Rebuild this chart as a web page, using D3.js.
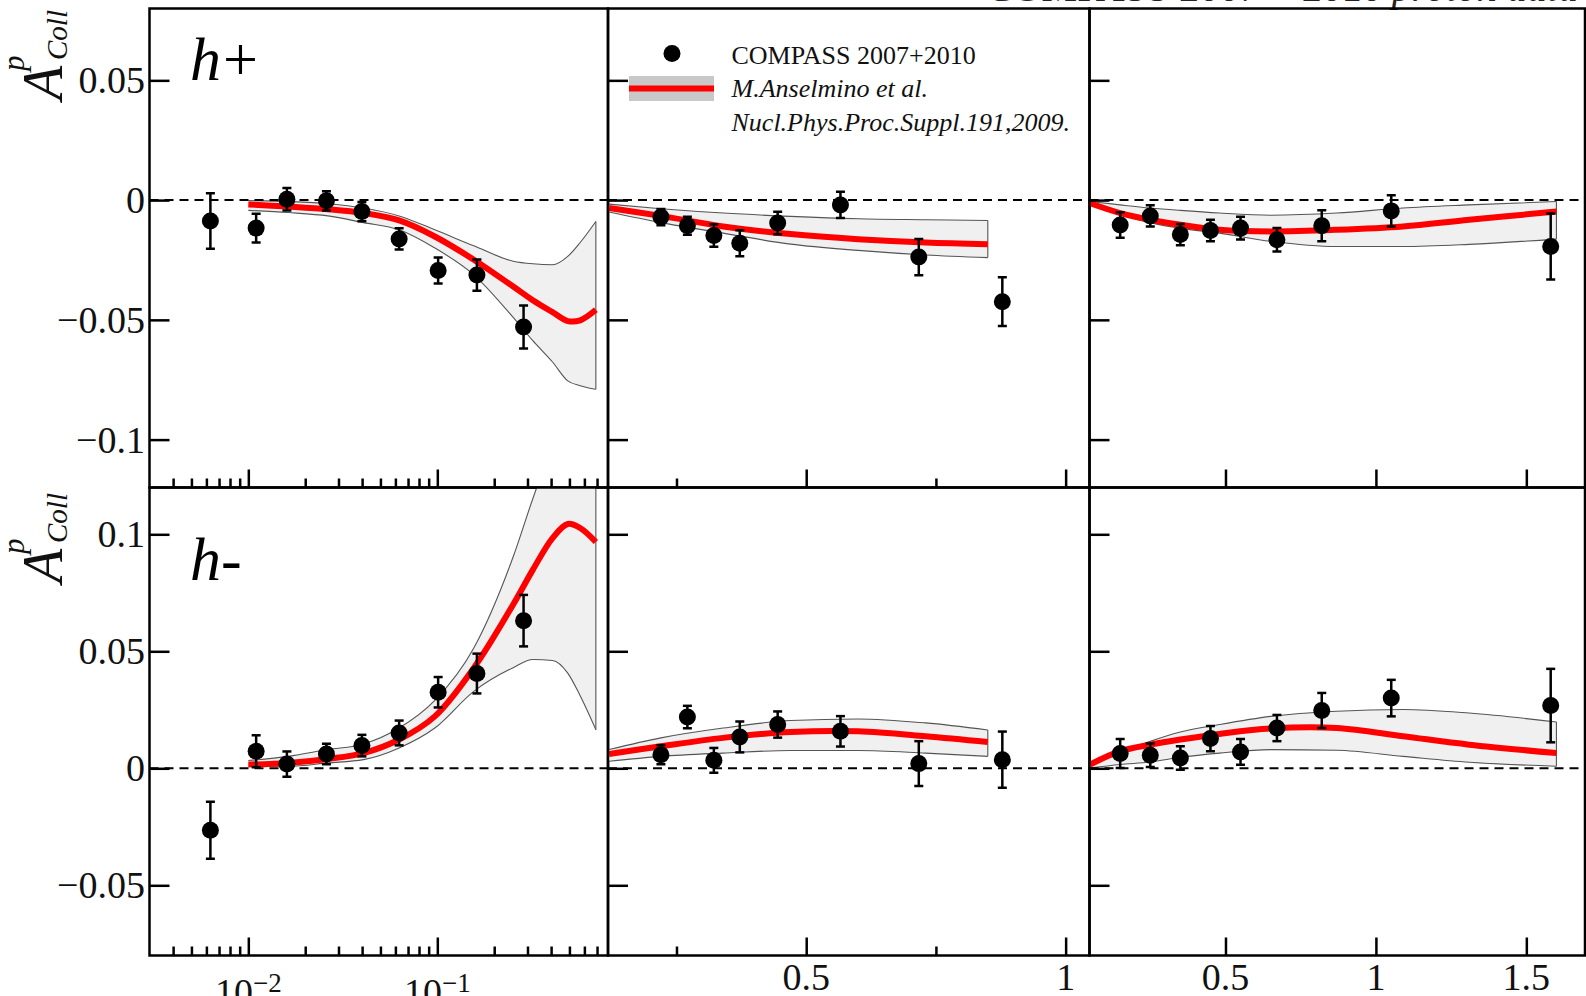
<!DOCTYPE html>
<html><head><meta charset="utf-8">
<script src="https://cdn.jsdelivr.net/npm/d3@7"></script>
<style>
html,body{margin:0;padding:0;background:#fff;}
svg{display:block;font-family:"Liberation Serif","Times New Roman",serif;}
</style></head>
<body>
<svg id="chart" width="1586" height="996"></svg>
<script>
// ---------------- data ----------------
// column 0: x (log), column 1: z, column 2: pT
const xBins  = [0.0063, 0.011, 0.016, 0.0259, 0.0399, 0.0628, 0.101, 0.162, 0.286];
const zBins  = [0.22, 0.271, 0.322, 0.372, 0.445, 0.566, 0.717, 0.878];
const ptBins = [0.15, 0.25, 0.35, 0.45, 0.55, 0.671, 0.82, 1.051, 1.581];

const hPlusX      = [-0.0087, -0.0117, 0.0004, -0.0003, -0.0048, -0.0162, -0.0294, -0.0313, -0.053];
const hPlusXErr   = [0.0116, 0.006, 0.0047, 0.004, 0.004, 0.0044, 0.0054, 0.0065, 0.009];
const hPlusZ      = [-0.0071, -0.0107, -0.0148, -0.018, -0.0096, -0.002, -0.0238, -0.0424];
const hPlusZErr   = [0.0034, 0.0038, 0.0047, 0.0054, 0.0047, 0.0055, 0.0076, 0.0102];
const hPlusPt     = [-0.0104, -0.0066, -0.0144, -0.0127, -0.0117, -0.0166, -0.0107, -0.0045, -0.0194];
const hPlusPtErr  = [0.0053, 0.0044, 0.0044, 0.0045, 0.0048, 0.0049, 0.0065, 0.0065, 0.0138];

const hMinusX     = [-0.0265, 0.0073, 0.0018, 0.0061, 0.0097, 0.0151, 0.0325, 0.0405, 0.0631];
const hMinusXErr  = [0.0122, 0.0068, 0.0054, 0.0044, 0.0046, 0.0053, 0.0065, 0.0085, 0.011];
const hMinusZ     = [0.0058, 0.0219, 0.0034, 0.0134, 0.0187, 0.0158, 0.002, 0.0037];
const hMinusZErr  = [0.0041, 0.0048, 0.0053, 0.0066, 0.0056, 0.0065, 0.0096, 0.012];
const hMinusPt    = [0.0063, 0.0056, 0.0044, 0.0127, 0.007, 0.0172, 0.0247, 0.03, 0.0268];
const hMinusPtErr = [0.0062, 0.005, 0.005, 0.0054, 0.0055, 0.0056, 0.0075, 0.0078, 0.0157];

// theory (Anselmino et al.) grids and curves
const thX  = [0.01, 0.0163, 0.0264, 0.0407, 0.0628, 0.097, 0.156, 0.252, 0.32, 0.407, 0.49, 0.57, 0.69];
const thZ  = [0.12, 0.22, 0.34, 0.47, 0.60, 0.73, 0.85];
const thPt = [0.05, 0.15, 0.25, 0.35, 0.48, 0.65, 0.87, 1.09, 1.31, 1.6];

const thPlusXMid  = [-0.0018, -0.0027, -0.0038, -0.0054, -0.0085, -0.0152, -0.0249, -0.0361, -0.0418, -0.0468, -0.0505, -0.0502, -0.0458];
const thPlusXHi   = [-0.0002, -0.0006, -0.0015, -0.0033, -0.0066, -0.0124, -0.0191, -0.0255, -0.0266, -0.027, -0.0235, -0.0177, -0.0089];
const thPlusXLo   = [-0.0043, -0.0052, -0.0066, -0.0094, -0.0124, -0.02, -0.0312, -0.049, -0.0587, -0.0676, -0.0755, -0.0775, -0.079];
const thPlusZMid  = [-0.0033, -0.0066, -0.011, -0.0142, -0.0163, -0.0177, -0.0184];
const thPlusZHi   = [-0.0017, -0.0036, -0.0054, -0.0068, -0.0078, -0.0082, -0.0085];
const thPlusZLo   = [-0.005, -0.0094, -0.0138, -0.0184, -0.021, -0.0229, -0.024];
const thPlusPtMid = [-0.0013, -0.0054, -0.0082, -0.0103, -0.0124, -0.0131, -0.0124, -0.011, -0.0082, -0.0048];
const thPlusPtHi  = [-0.0006, -0.002, -0.0033, -0.0043, -0.0054, -0.0063, -0.0054, -0.0033, -0.002, -0.0006];
const thPlusPtLo  = [-0.002, -0.006, -0.0094, -0.0118, -0.0138, -0.0172, -0.0194, -0.0194, -0.0185, -0.0163];

const thMinusXMid  = [0.0016, 0.0023, 0.004, 0.0065, 0.0123, 0.0222, 0.0429, 0.07, 0.0848, 0.0984, 0.1044, 0.1027, 0.0967];
const thMinusXHi   = [0.0033, 0.0051, 0.008, 0.0104, 0.0172, 0.029, 0.0514, 0.0904, 0.1152, 0.1384, 0.155, 0.17, 0.19];
const thMinusXLo   = [0.0009, 0.0009, 0.0023, 0.0037, 0.0087, 0.0172, 0.0329, 0.043, 0.0465, 0.0461, 0.0407, 0.031, 0.0165];
const thMinusZMid  = [0.0061, 0.0094, 0.013, 0.0155, 0.0158, 0.0137, 0.0112];
const thMinusZHi   = [0.008, 0.013, 0.0172, 0.0204, 0.0211, 0.0194, 0.0164];
const thMinusZLo   = [0.003, 0.0051, 0.0065, 0.0076, 0.0076, 0.0065, 0.0051];
const thMinusPtMid = [0.0016, 0.0073, 0.0101, 0.0123, 0.0147, 0.017, 0.0172, 0.0137, 0.0101, 0.0065];
const thMinusPtHi  = [0.0016, 0.0065, 0.0115, 0.0155, 0.0187, 0.0222, 0.0244, 0.0251, 0.0236, 0.0198];
const thMinusPtLo  = [0.0001, 0.0016, 0.0027, 0.0047, 0.0065, 0.008, 0.0077, 0.0051, 0.0026, 0.0009];

const yTicksTop = [0.05, 0, -0.05, -0.1];
const yTicksBot = [0.1, 0.05, 0, -0.05];
const xMinorLog = [0.004,0.005,0.006,0.007,0.008,0.009,0.02,0.03,0.04,0.05,0.06,0.07,0.08,0.09,0.2,0.3,0.4,0.5,0.6,0.7];
const xMajorLog = [0.01, 0.1];
const xLogLabels = [{v:0.01, e:"\u22122"}, {v:0.1, e:"\u22121"}];
const zMajor = [0.5, 1], zMinor = [0.25, 0.75];
const ptMajor = [0.5, 1, 1.5];
const rowLabels = ["h+", "h-"];
const legendData = "COMPASS 2007+2010";
const legendTheory = ["M.Anselmino et al.", "Nucl.Phys.Proc.Suppl.191,2009."];

// ---------------- layout ----------------
const svg = d3.select("#chart");
const colEdges = [[149.5, 608], [608, 1089.5], [1089.5, 1585]];
const rowEdges = [[8.5, 487.5], [487.5, 955.5]];
const xs = [
  d3.scaleLog().domain([0.003, 0.8]).range(colEdges[0]),
  d3.scaleLinear().domain([0.118, 1.046]).range(colEdges[1]),
  d3.scaleLinear().domain([0.048, 1.695]).range(colEdges[2])
];
const ys = [
  d3.scaleLinear().domain([-0.12, 0.08]).range([rowEdges[0][1], rowEdges[0][0]]),
  d3.scaleLinear().domain([-0.08, 0.12]).range([rowEdges[1][1], rowEdges[1][0]])
];

const panels = [
  {r:0,c:0, bins:xBins,  v:hPlusX,   e:hPlusXErr,   tx:thX,  mid:thPlusXMid,  hi:thPlusXHi,  lo:thPlusXLo},
  {r:0,c:1, bins:zBins,  v:hPlusZ,   e:hPlusZErr,   tx:thZ,  mid:thPlusZMid,  hi:thPlusZHi,  lo:thPlusZLo},
  {r:0,c:2, bins:ptBins, v:hPlusPt,  e:hPlusPtErr,  tx:thPt, mid:thPlusPtMid, hi:thPlusPtHi, lo:thPlusPtLo},
  {r:1,c:0, bins:xBins,  v:hMinusX,  e:hMinusXErr,  tx:thX,  mid:thMinusXMid, hi:thMinusXHi, lo:thMinusXLo},
  {r:1,c:1, bins:zBins,  v:hMinusZ,  e:hMinusZErr,  tx:thZ,  mid:thMinusZMid, hi:thMinusZHi, lo:thMinusZLo},
  {r:1,c:2, bins:ptBins, v:hMinusPt, e:hMinusPtErr, tx:thPt, mid:thMinusPtMid,hi:thMinusPtHi,lo:thMinusPtLo}
];

svg.append("rect").attr("width",1586).attr("height",996).attr("fill","#fff");

// top title (cut off by the page edge in the original as well)
const ttl = svg.append("text").attr("x",986).attr("y",1).attr("font-size",40).attr("fill","#222");
ttl.append("tspan").text("COMPASS 2007 \u2212 2010 ");
ttl.append("tspan").attr("font-style","italic").text("proton data");

const defs = svg.append("defs");

panels.forEach((p,i) => {
  const x = xs[p.c], y = ys[p.r];
  const [x0,x1] = colEdges[p.c], [y0,y1] = rowEdges[p.r];
  defs.append("clipPath").attr("id","clip"+i)
    .append("rect").attr("x",x0).attr("y",y0).attr("width",x1-x0).attr("height",y1-y0);
  const g = svg.append("g");
  const gc = g.append("g").attr("clip-path",`url(#clip${i})`);

  const pts = p.tx.map((t,k) => ({t, m:p.mid[k], h:p.hi[k], l:p.lo[k]}));
  const area = d3.area().x(d=>x(d.t)).y0(d=>y(d.l)).y1(d=>y(d.h)).curve(d3.curveMonotoneX);
  gc.append("path").attr("d",area(pts)).attr("fill","#f0f0f0").attr("stroke","none");
  const mk = (acc, curve) => d3.line().x(d=>x(d.t)).y(d=>y(acc(d))).curve(curve)(pts);
  gc.append("path").attr("d",mk(d=>d.h, d3.curveMonotoneX)).attr("fill","none").attr("stroke","#555").attr("stroke-width",1.1);
  gc.append("path").attr("d",mk(d=>d.l, d3.curveMonotoneX)).attr("fill","none").attr("stroke","#555").attr("stroke-width",1.1);
  const last = pts[pts.length-1];
  gc.append("line").attr("x1",x(last.t)).attr("x2",x(last.t)).attr("y1",y(last.h)).attr("y2",y(last.l))
    .attr("stroke","#555").attr("stroke-width",1.1);

  // zero line
  gc.append("line").attr("x1",x0).attr("x2",x1).attr("y1",y(0)).attr("y2",y(0))
    .attr("stroke","#000").attr("stroke-width",2).attr("stroke-dasharray","9,6");

  // theory central curve
  gc.append("path").attr("d",mk(d=>d.m, d3.curveCatmullRom.alpha(0.5)))
    .attr("fill","none").attr("stroke","#ff0000").attr("stroke-width",6);

  // data points
  const dp = p.bins.map((b,k)=>({b, v:p.v[k], e:p.e[k]}));
  const eg = gc.append("g").attr("stroke","#000").attr("stroke-width",2.5);
  dp.forEach(d => {
    const cx = x(d.b), ya = y(d.v+d.e), yb = y(d.v-d.e);
    eg.append("line").attr("x1",cx).attr("x2",cx).attr("y1",ya).attr("y2",yb);
    eg.append("line").attr("x1",cx-4.5).attr("x2",cx+4.5).attr("y1",ya).attr("y2",ya);
    eg.append("line").attr("x1",cx-4.5).attr("x2",cx+4.5).attr("y1",yb).attr("y2",yb);
  });
  gc.append("g").selectAll("circle").data(dp).join("circle")
    .attr("cx",d=>x(d.b)).attr("cy",d=>y(d.v)).attr("r",8.5).attr("fill","#000");

  // y axis ticks (inward)
  const yAxis = d3.axisLeft(y).tickValues(p.r===0?yTicksTop:yTicksBot).tickSizeInner(-20).tickSizeOuter(0).tickFormat("");
  const ya = g.append("g").attr("transform",`translate(${x0},0)`).call(yAxis);
  ya.select(".domain").remove();
  ya.selectAll("line").attr("stroke","#000").attr("stroke-width",2.5);

  // x axis ticks (inward)
  const addX = (vals, len) => {
    const ax = d3.axisBottom(x).tickValues(vals).tickSizeInner(-len).tickSizeOuter(0).tickFormat("");
    const ga = g.append("g").attr("transform",`translate(0,${y1})`).call(ax);
    ga.select(".domain").remove();
    ga.selectAll("line").attr("stroke","#000").attr("stroke-width",2.5);
  };
  if (p.c===0) { addX(xMajorLog,18); addX(xMinorLog,9); }
  else if (p.c===1) { addX(zMajor,18); addX(zMinor,9); }
  else { addX(ptMajor,18); }

  // frame
  g.append("rect").attr("x",x0).attr("y",y0).attr("width",x1-x0).attr("height",y1-y0)
    .attr("fill","none").attr("stroke","#000").attr("stroke-width",2.5);

  // y tick labels on left column
  if (p.c===0) {
    const fmt = v => v===0 ? "0" : (v<0?"\u2212":"") + Math.abs(v);
    g.append("g").selectAll("text").data(p.r===0?yTicksTop:yTicksBot).join("text")
      .attr("x",145).attr("y",d=>y(d)).attr("dy","0.34em").attr("text-anchor","end")
      .attr("font-size",38).attr("fill","#111").text(fmt);
  }
  // x tick labels on bottom row
  if (p.r===1) {
    if (p.c===0) {
      xLogLabels.forEach(l => {
        const t = g.append("text").attr("x",x(l.v)).attr("y",1005).attr("text-anchor","middle")
          .attr("font-size",38).attr("fill","#111");
        t.append("tspan").text("10");
        t.append("tspan").attr("font-size",27).attr("dy",-13).text(l.e);
      });
    } else {
      const vals = p.c===1 ? zMajor : ptMajor;
      g.append("g").selectAll("text").data(vals).join("text")
        .attr("x",d=>x(d)).attr("y",990).attr("text-anchor","middle")
        .attr("font-size",38).attr("fill","#111").text(d=>String(d));
    }
  }
});

// row labels h+ / h-
[[0,80],[1,580]].forEach(([r,yb]) => {
  const t = svg.append("text").attr("x",190).attr("y",yb).attr("font-size",62).attr("fill","#000");
  if (r===0) {
    t.append("tspan").attr("font-style","italic").text("h");
    t.append("tspan").attr("dx",2).text("+");
  } else {
    t.append("tspan").attr("font-style","italic").text(rowLabels[1]);
  }
});

// y axis titles A^p_Coll
[100, 583].forEach(yb => {
  const g = svg.append("g").attr("transform",`translate(62,${yb}) rotate(-90)`)
    .attr("font-style","italic").attr("fill","#111");
  g.append("text").attr("x",0).attr("y",0).attr("font-size",56).text("A");
  g.append("text").attr("x",29).attr("y",-38).attr("font-size",31).text("p");
  g.append("text").attr("x",40).attr("y",5).attr("font-size",29).text("Coll");
});

// legend
const lg = svg.append("g");
lg.append("circle").attr("cx",672).attr("cy",53.5).attr("r",8.5).attr("fill","#000");
lg.append("rect").attr("x",629).attr("y",76).attr("width",85).attr("height",25).attr("fill","#c8c8c8");
lg.append("line").attr("x1",629).attr("x2",714).attr("y1",88.5).attr("y2",88.5).attr("stroke","#ff0000").attr("stroke-width",6);
lg.append("text").attr("x",731.5).attr("y",63.5).attr("font-size",26).attr("fill","#111").text(legendData);
lg.append("text").attr("x",731.5).attr("y",97).attr("font-size",26).attr("font-style","italic").attr("fill","#111").text(legendTheory[0]);
lg.append("text").attr("x",731.5).attr("y",131).attr("font-size",26).attr("font-style","italic").attr("fill","#111").text(legendTheory[1]);
</script>
</body></html>
